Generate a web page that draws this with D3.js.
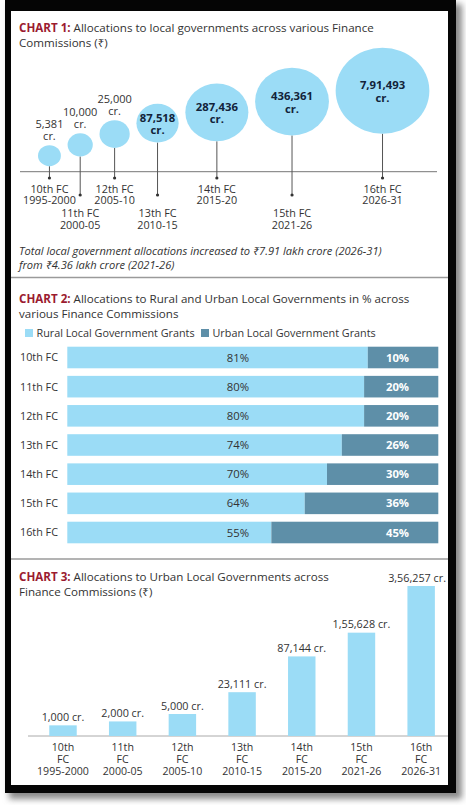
<!DOCTYPE html>
<html><head><meta charset="utf-8">
<script src="https://cdn.jsdelivr.net/npm/d3@7/dist/d3.min.js"></script>
<style>
html,body{margin:0;padding:0;background:#fff;}
svg{display:block;font-family:"Open Sans","Noto Sans",sans-serif;}
</style></head>
<body>
<svg id="c" width="466" height="805"></svg>
<script>
// ---------- DATA ----------
const fcNames = ["10th FC","11th FC","12th FC","13th FC","14th FC","15th FC","16th FC"];
const fcOrd = ["10th","11th","12th","13th","14th","15th","16th"];
const fcYears = ["1995-2000","2000-05","2005-10","2010-15","2015-20","2021-26","2026-31"];
const totalAlloc = [5381,10000,25000,87518,287436,436361,791493];
const totalAllocLabels = ["5,381","10,000","25,000","87,518","287,436","436,361","7,91,493"];
const ruralPct = [81,80,80,74,70,64,55];
const urbanPct = [10,20,20,26,30,36,45];
const urbanAlloc = [1000,2000,5000,23111,87144,155628,356257];
const urbanAllocLabels = ["1,000","2,000","5,000","23,111","87,144","1,55,628","3,56,257"];
const seriesNames = ["Rural Local Government Grants","Urban Local Government Grants"];

// ---------- STYLE ----------
const RED = "#9b1b30", TXT = "#333", LIGHT = "#9bdcf6", DARK = "#5e8fa8", NAVY = "#12233a";
const svg = d3.select("#c");

// frame
const defs = svg.append("defs");
const f = defs.append("filter").attr("id","sh").attr("x","-10%").attr("y","-10%").attr("width","120%").attr("height","120%");
f.append("feGaussianBlur").attr("stdDeviation",3);
svg.append("rect").attr("x",9).attr("y",4).attr("width",453).attr("height",795).attr("fill","#8a8a8a").attr("filter","url(#sh)");
svg.append("rect").attr("x",5).attr("y",0).attr("width",451).attr("height",793).attr("fill","#050505");
svg.append("rect").attr("x",11).attr("y",11).attr("width",437).attr("height",774).attr("fill","#fff");

function title(lines, y0, n){
  lines.forEach((ln,i)=>{
    const t = svg.append("text").attr("x",19).attr("y",y0+i*15).attr("font-size",11.6).attr("fill",TXT);
    if(i===0){
      t.append("tspan").attr("font-weight",700).attr("fill",RED).text("CHART "+n+": ");
    }
    t.append("tspan").text(ln);
  });
}

// ---------- CHART 1 ----------
title(["Allocations to local governments across various Finance","Commissions (₹)"],32,1);
const axisY = 171.7;
svg.append("line").attr("x1",20).attr("x2",437).attr("y1",axisY).attr("y2",axisY).attr("stroke","#777").attr("stroke-width",1);
const rScale = d3.scalePow().exponent(0.5).domain([d3.min(totalAlloc), d3.max(totalAlloc)]).range([10.5,43]);
const aspect = 1.09, gap = 6.7;
const hScale = d3.scaleLinear().domain([0,6]).range([16,81]);
let cxs = []; let edge = 38;
totalAlloc.forEach((v,i)=>{ const rx = rScale(v)*aspect; cxs.push(edge+rx); edge += 2*rx+gap; });
const g1 = svg.append("g");
totalAlloc.forEach((v,i)=>{
  const r = rScale(v), rx = r*aspect, cx = cxs[i], cy = axisY - hScale(i);
  const low = i%2===1;
  const dotY = low ? 195 : 178;
  g1.append("line").attr("x1",cx).attr("x2",cx).attr("y1",cy+r).attr("y2",dotY).attr("stroke","#555").attr("stroke-width",1);
  g1.append("circle").attr("cx",cx).attr("cy",dotY).attr("r",1.6).attr("fill","#333");
  g1.append("ellipse").attr("cx",cx).attr("cy",cy).attr("rx",rx).attr("ry",r).attr("fill",LIGHT);
  if(v > 50000){
    const t = g1.append("text").attr("text-anchor","middle").attr("font-size",11.3).attr("font-weight",700).attr("fill",NAVY);
    t.append("tspan").attr("x",cx).attr("y",cy-1.5).text(totalAllocLabels[i]);
    t.append("tspan").attr("x",cx).attr("y",cy+11).text("cr.");
  } else {
    const t = g1.append("text").attr("text-anchor","middle").attr("font-size",11).attr("fill",TXT);
    t.append("tspan").attr("x",cx).attr("y",cy-r-17).text(totalAllocLabels[i]);
    t.append("tspan").attr("x",cx).attr("y",cy-r-5).text("cr.");
  }
  const ly = low ? 217 : 192.5;
  const t2 = g1.append("text").attr("text-anchor","middle").attr("font-size",10.8).attr("fill",TXT);
  t2.append("tspan").attr("x",cx).attr("y",ly).text(fcNames[i]);
  t2.append("tspan").attr("x",cx).attr("y",ly+11.8).text(fcYears[i]);
});
const note = svg.append("text").attr("font-size",11.1).attr("font-style","italic").attr("fill",TXT);
note.append("tspan").attr("x",19).attr("y",255).text("Total local government allocations increased to ₹7.91 lakh crore (2026-31)");
note.append("tspan").attr("x",19).attr("y",268.5).text("from ₹4.36 lakh crore (2021-26)");
svg.append("line").attr("x1",11).attr("x2",448).attr("y1",277.5).attr("y2",277.5).attr("stroke","#9a9a9a").attr("stroke-width",1.5);

// ---------- CHART 2 ----------
title(["Allocations to Rural and Urban Local Governments in % across","various Finance Commissions"],302.5,2);
const leg = svg.append("g");
[[25,LIGHT],[201,DARK]].forEach(([lx,c],i)=>{
  leg.append("rect").attr("x",lx).attr("y",329).attr("width",8).attr("height",8).attr("fill",c);
  leg.append("text").attr("x",lx+11.5).attr("y",336.7).attr("font-size",10.8).attr("fill",TXT).text(seriesNames[i]);
});
const x2 = d3.scaleLinear().domain([0,100]).range([67.3,438.3]);
const y2 = d3.scaleBand().domain(fcNames).range([346.7,543.3]).paddingInner(0.26).paddingOuter(0);
const g2 = svg.append("g");
fcNames.forEach((n,i)=>{
  const y = y2(n), h = y2.bandwidth();
  g2.append("rect").attr("x",x2(0)).attr("y",y).attr("width",x2(ruralPct[i])-x2(0)).attr("height",h).attr("fill",LIGHT);
  g2.append("rect").attr("x",x2(ruralPct[i])).attr("y",y).attr("width",x2(100)-x2(ruralPct[i])).attr("height",h).attr("fill",DARK);
  g2.append("text").attr("x",20).attr("y",y+h/2).attr("dy","0.36em").attr("font-size",10.8).attr("fill",TXT).text(n);
  g2.append("text").attr("x",x2(46)).attr("y",y+h/2).attr("dy","0.36em").attr("text-anchor","middle").attr("font-size",11.3).attr("fill",TXT).text(ruralPct[i]+"%");
  g2.append("text").attr("x",x2(89)).attr("y",y+h/2).attr("dy","0.36em").attr("text-anchor","middle").attr("font-size",11.3).attr("font-weight",700).attr("fill","#fff").text(urbanPct[i]+"%");
});
svg.append("line").attr("x1",11).attr("x2",448).attr("y1",559).attr("y2",559).attr("stroke","#9a9a9a").attr("stroke-width",1.5);

// ---------- CHART 3 ----------
title(["Allocations to Urban Local Governments across","Finance Commissions (₹)"],581,3);
const base3 = 736;
const x3 = d3.scaleBand().domain(fcNames).range([33.15,451]).paddingInner(0.54).paddingOuter(0.27);
const h3 = d3.scalePow().exponent(0.45).domain([0,d3.max(urbanAlloc)]).range([0,150]);
const g3 = svg.append("g");
g3.append("line").attr("x1",28).attr("x2",448).attr("y1",base3).attr("y2",base3).attr("stroke","#aaa").attr("stroke-width",1);
fcNames.forEach((n,i)=>{
  const x = x3(n), w = x3.bandwidth(), cx = x+w/2, top = base3 - h3(urbanAlloc[i]);
  g3.append("rect").attr("x",x).attr("y",top).attr("width",w).attr("height",base3-top).attr("fill",LIGHT);
  const vl = g3.append("text").attr("x",cx).attr("y",top-4.5).attr("text-anchor","middle").attr("font-size",10.8).attr("fill",TXT).text(urbanAllocLabels[i]+" cr.");
  const tw = vl.node().getComputedTextLength();
  if(cx + tw/2 > 446) vl.attr("x", 446 - tw/2);
  const t = g3.append("text").attr("text-anchor","middle").attr("font-size",10.6).attr("fill",TXT);
  t.append("tspan").attr("x",cx).attr("y",750.5).text(fcOrd[i]);
  t.append("tspan").attr("x",cx).attr("y",762.7).text("FC");
  t.append("tspan").attr("x",cx).attr("y",775).text(fcYears[i]);
});
</script>
</body></html>
